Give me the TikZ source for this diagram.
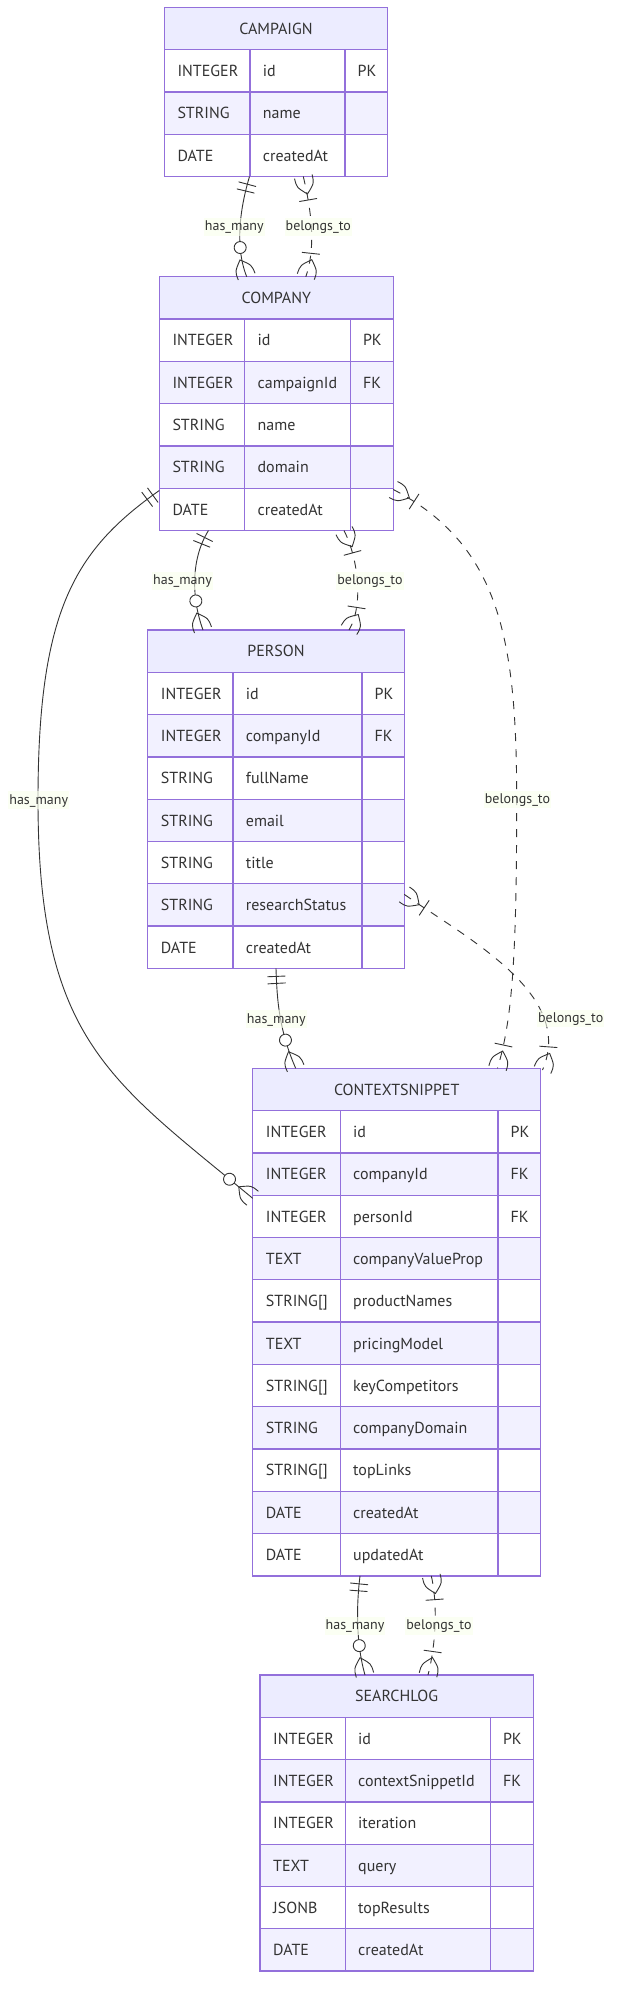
\documentclass[tikz,border=0pt]{standalone}
\usepackage{fontspec}
\setmainfont{PT Sans}
\usepackage{tikz}
\usetikzlibrary{decorations.markings}
\usepackage{xcolor}
\definecolor{erpurple}{HTML}{9370DB}
\definecolor{erhead}{HTML}{ECECFF}
\definecolor{errow}{HTML}{F2F1FF}
\definecolor{ertext}{HTML}{333333}
\definecolor{eredge}{HTML}{333333}
\definecolor{erlabel}{HTML}{F9FFEC}

\def\rowh{42.3}

\tikzset{
  entframe/.style={draw=erpurple,line width=1.3pt},
  entword/.style={text=ertext,inner sep=0pt,font=\fontsize{16}{19}\selectfont},
  rellabel/.style={fill=erlabel,fill opacity=0.6,text opacity=1,text=ertext,
    font=\fontsize{14}{16}\selectfont,inner xsep=1pt,inner ysep=1.8pt,
    text height=11pt,text depth=3pt},
  relline/.style={draw=eredge,line width=0.9pt},
  reldash/.style={relline,dash pattern=on 8pt off 8pt},
  % crow's foot ends: local x runs along the connector
  one at start/.style={postaction={decorate,decoration={markings,
    mark=at position 8pt with {\draw[relline,solid] (0,-9) -- (0,9);},
    mark=at position 15pt with {\draw[relline,solid] (0,-9) -- (0,9);}}}},
  foot at start/.style={postaction={decorate,decoration={markings,
    mark=at position 0.05pt with {\draw[relline,solid] (0,-9) .. controls (9,-9) .. (18,0)
      .. controls (9,9) .. (0,9);}}}},
  foot at end/.style={postaction={decorate,decoration={markings,
    mark=at position -0.05pt with {\draw[relline,solid] (0,-9) .. controls (-9,-9) .. (-18,0)
      .. controls (-9,9) .. (0,9);}}}},
  zero many at end/.style={foot at end,postaction={decorate,decoration={markings,
    mark=at position -30pt with {\draw[relline,solid,fill=white] (0,0) circle[radius=6pt];}}}},
  one many at start/.style={foot at start,postaction={decorate,decoration={markings,
    mark=at position 24pt with {\draw[relline,solid] (0,-9) -- (0,9);}}}},
  one many at end/.style={foot at end,postaction={decorate,decoration={markings,
    mark=at position -24pt with {\draw[relline,solid] (0,-9) -- (0,9);}}}},
}

% #1 name, #2 title, #3 #4 top left, #5 #6 #7 column widths, #8 rows, #9 rows
\newcommand\erentity[9]{%
  \pgfmathsetmacro\colA{#3+#5}%
  \pgfmathsetmacro\colB{#3+#5+#6}%
  \pgfmathsetmacro\colC{#3+#5+#6+#7}%
  \node[inner sep=0pt,outer sep=0pt,minimum width={(#5+#6+#7)*1pt},
    minimum height={(#8+1)*\rowh*1pt},anchor=north west] (#1) at (#3,#4) {};
  \draw[entframe,fill=erhead] (#3,#4) rectangle (\colC,#4+\rowh);
  \node[entword,anchor=base] at ({(#3+\colC)/2},#4+\rowh/2+5.8) {#2};
  \foreach \typ/\att/\key [count=\i] in {#9} {
    \pgfmathsetmacro\rtop{#4+\rowh*\i}
    \ifodd\i \def\rfill{white}\else \def\rfill{errow}\fi
    \draw[entframe,fill=\rfill] (#3,\rtop) rectangle (\colA,\rtop+\rowh)
      (\colA,\rtop) rectangle (\colB,\rtop+\rowh)
      (\colB,\rtop) rectangle (\colC,\rtop+\rowh);
    \node[entword,anchor=base west] at (#3+13,\rtop+\rowh/2+5.8) {\typ};
    \node[entword,anchor=base west] at (\colA+12.7,\rtop+\rowh/2+5.8) {\att};
    \node[entword,anchor=base west] at (\colB+12.5,\rtop+\rowh/2+5.8) {\key};
  }%
}

\begin{document}
\begin{tikzpicture}[x=1pt,y=-1pt]
\fill[white] (0,0) rectangle (620,2002);
\useasboundingbox (0,0) rectangle (620,2002);
% entities
\erentity{campaign}{CAMPAIGN}{164.3}{7.3}{85.7}{95}{42.7}{3}
  {INTEGER/id/PK, STRING/name/, DATE/createdAt/}
\erentity{company}{COMPANY}{159.3}{276.7}{85.4}{105.6}{43}{5}
  {INTEGER/id/PK, INTEGER/campaignId/FK, STRING/name/, STRING/domain/, DATE/createdAt/}
\erentity{person}{PERSON}{147.7}{630}{85.3}{129}{42.3}{7}
  {INTEGER/id/PK, INTEGER/companyId/FK, STRING/fullName/, STRING/email/,
   STRING/title/, STRING/researchStatus/, DATE/createdAt/}
\erentity{cs}{CONTEXTSNIPPET}{252.7}{1068.3}{87.6}{157.7}{42.7}{11}
  {INTEGER/id/PK, INTEGER/companyId/FK, INTEGER/personId/FK, TEXT/companyValueProp/,
   {STRING[]}/productNames/, TEXT/pricingModel/, {STRING[]}/keyCompetitors/,
   STRING/companyDomain/, {STRING[]}/topLinks/, DATE/createdAt/, DATE/updatedAt/}
\erentity{sl}{SEARCHLOG}{260}{1675}{85.3}{145}{43}{6}
  {INTEGER/id/PK, INTEGER/contextSnippetId/FK, INTEGER/iteration/, TEXT/query/,
   JSONB/topResults/, DATE/createdAt/}

% campaign -- company
\draw[relline,one at start,zero many at end] ([xshift=85.2pt]campaign.south west)
  .. controls (241,205) and (234,245) .. ([xshift=87.4pt]company.north west);
\draw[reldash,one many at start,one many at end] ([xshift=139pt]campaign.south west)
  .. controls (310,205) and (317,245) .. ([xshift=146.5pt]company.north west);
% company -- person
\draw[relline,one at start,zero many at end] ([xshift=49.2pt]company.south west)
  .. controls (190,560) and (192,600) .. ([xshift=55.3pt]person.north west);
\draw[reldash,one many at start,one many at end] ([xshift=184.7pt]company.south west)
  .. controls (358,558) and (364,605) .. ([xshift=201.3pt]person.north west);
% company -- contextsnippet, the long way round
\draw[relline,one at start,zero many at end] ([yshift=40pt]company.south west)
  .. controls (75,550) and (38,610) .. (38,800)
  .. controls (38,1040) and (110,1080) .. ([yshift=-130pt]cs.north west);
\draw[reldash,one many at start,one many at end] ([yshift=41pt]company.south east)
  .. controls (500,545) and (516.7,640) .. (516.7,800)
  .. controls (516.7,960) and (512,1020) .. ([xshift=-43.2pt]cs.north east);
% person -- contextsnippet
\draw[relline,one at start,zero many at end] ([xshift=128.3pt]person.south west)
  .. controls (277,1000) and (279,1030) .. ([xshift=43pt]cs.north west);
\draw[reldash,one many at start,one many at end] ([yshift=74pt]person.south east)
  .. controls (470,940) and (575,995) .. ([xshift=1.8pt,yshift=-1.7pt]cs.north east);
% contextsnippet -- searchlog
\draw[relline,one at start,zero many at end] ([xshift=107.3pt]cs.south west)
  .. controls (357,1600) and (355,1640) .. ([xshift=105pt]sl.north west);
\draw[reldash,one many at start,one many at end] ([xshift=178.6pt]cs.south west)
  .. controls (437,1600) and (437,1640) .. ([xshift=168pt]sl.north west);

% relationship labels
\node[rellabel] (hm1) at (234.3,226.7) {has\_many};
\node[rellabel] (bt1) at (318.3,226.7) {belongs\_to};
\node[rellabel] (hm2) at (182.5,580.7) {has\_many};
\node[rellabel] (bt2) at (370,580.7) {belongs\_to};
\node[rellabel] (hm3) at (38.7,800) {has\_many};
\node[rellabel] (bt3) at (517.5,799.3) {belongs\_to};
\node[rellabel] (hm4) at (276.3,1019) {has\_many};
\node[rellabel] (bt4) at (570.7,1018.3) {belongs\_to};
\node[rellabel] (hm5) at (355,1625.7) {has\_many};
\node[rellabel] (bt5) at (439,1625.7) {belongs\_to};
\end{tikzpicture}
\end{document}
